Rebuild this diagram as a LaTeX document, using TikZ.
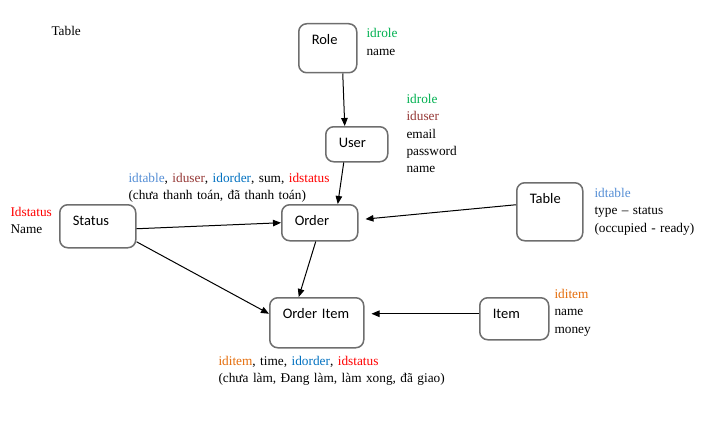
\documentclass[tikz,border=0pt]{standalone}
\usepackage{fontspec}
\setmainfont{Liberation Serif}
\newfontfamily\boxfont{Carlito}
\usepackage{xcolor}
\usepackage{tikz}
\usetikzlibrary{positioning,arrows.meta}
\definecolor{idgreen}{HTML}{00B050}
\definecolor{idbrown}{HTML}{953735}
\definecolor{idlight}{HTML}{558ED5}
\definecolor{idblue}{HTML}{0070C0}
\definecolor{idred}{HTML}{FF0000}
\definecolor{idorange}{HTML}{E46C0A}
\definecolor{boxgray}{HTML}{6E6E6E}

\begin{document}
\begin{tikzpicture}[
x=1pt, y=-1pt, >={Triangle[length=8pt,width=6.5pt]}, line width=1pt,
roundnode/.style={draw=boxgray, line width=1.5pt, rounded corners=8pt, anchor=north west, inner xsep=13pt, inner ysep=11pt, text height=10pt, align=left, font=\boxfont\fontsize{14.5}{17}\selectfont},
attr/.style={anchor=base west, inner sep=0pt, text width=300pt, align=left}]
\tikzstyle{every node}=[font=\fontsize{13.3}{17.5}\selectfont]
\useasboundingbox (0,0) rectangle (702,428);
% tables
\node[roundnode, text width=32pt, text depth=17pt] (role) at (298,23) {Role};
\node[roundnode, text width=36pt, text depth=3pt] (user) at (325,126) {User};
\node[roundnode, text width=50pt, text depth=11pt] (status) at (59,204) {Status};
\node[roundnode, text width=50pt, text depth=4pt] (order) at (281,204) {Order};
\node[roundnode, text width=40pt, text depth=26pt] (table) at (516,182) {Table};
\node[roundnode, text width=68pt, text depth=18pt] (orderitem) at (269,297) {Order Item};
\node[roundnode, text width=43pt, text depth=10pt] (item) at (479,297) {Item};
% fields
\node[attr] (title) at (51,36) {Table};
\node[attr] (roleattr) at (366,38) {\textcolor{idgreen}{idrole}\\name};
\node[attr] (userattr) at (406,103) {\textcolor{idgreen}{idrole}\\\textcolor{idbrown}{iduser}\\email\\password\\name};
\node[attr] (orderattr) at (128,182) {\textcolor{idlight}{idtable}, \textcolor{idbrown}{iduser}, \textcolor{idblue}{idorder}, sum, \textcolor{idred}{idstatus}\\(chưa thanh toán, đã thanh toán)};
\node[attr] (statusattr) at (10,216) {\textcolor{idred}{Idstatus}\\Name};
\node[attr] (tableattr) at (594,197) {\textcolor{idlight}{idtable}\\type – status\\(occupied - ready)};
\node[attr] (itemattr) at (554,298) {\textcolor{idorange}{iditem}\\name\\money};
\node[attr] (orderitemattr) at (218,365) {\textcolor{idorange}{iditem}, time, \textcolor{idblue}{idorder}, \textcolor{idred}{idstatus}\\(chưa làm, Đang làm, làm xong, đã giao)};
% links
\draw[->] ([xshift=15pt]role.south) -- ([xshift=-12pt]user.north);
\draw[->] ([xshift=-13pt]user.south) -- ([xshift=18pt]order.north);
\draw[->, shorten >=7pt] ([yshift=7pt]table.west) -- ([yshift=3pt]order.east);
\draw[->] ([yshift=-2.5pt]status.east) -- (order.west);
\draw[->] ([yshift=-15.5pt]status.east) -- ([yshift=9pt]orderitem.west);
\draw[->] ([xshift=-4pt]order.south) -- ([xshift=-18pt]orderitem.north);
\draw[->, shorten >=7pt] ([yshift=5pt]item.west) -- ([yshift=9pt]orderitem.east);
\end{tikzpicture}
\end{document}
